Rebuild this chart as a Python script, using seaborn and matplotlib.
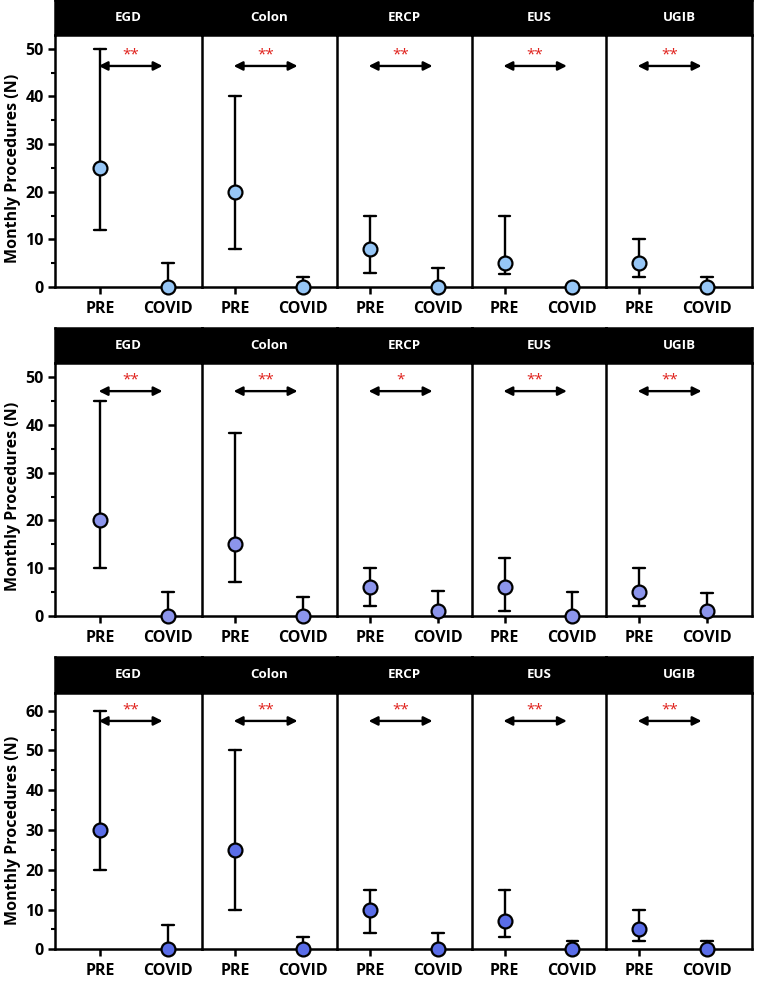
import numpy as np
import pandas as pd
import matplotlib
matplotlib.use('Agg')
import matplotlib.pyplot as plt
import seaborn as sns

# ─────────────────────────────────────────────
# DATA  (median, lower, upper per procedure)
# ─────────────────────────────────────────────
PROCEDURES = ['EGD', 'Colon', 'ERCP', 'EUS', 'UGIB']
PERIODS    = ['PRE', 'COVID']

# row 1
r1_pre_med   = [25, 20, 8, 5, 5]
r1_pre_lo    = [12, 8, 3, 2.7, 2]
r1_pre_hi    = [50, 40, 15, 15, 10]
r1_covid_med = [0, 0, 0, 0, 0]
r1_covid_lo  = [0, 0, 0, 0, 0]
r1_covid_hi  = [5, 2, 4, 0, 2]
r1_sig       = ['**', '**', '**', '**', '**']

# row 2
r2_pre_med   = [20, 15, 6, 6, 5]
r2_pre_lo    = [10, 7, 2, 1, 2]
r2_pre_hi    = [45, 38.4, 10, 12, 10]
r2_covid_med = [0, 0, 1, 0, 1]
r2_covid_lo  = [0, 0, 0, 0, 0]
r2_covid_hi  = [5, 4, 5.2, 5, 4.7]
r2_sig       = ['**', '**', '*', '**', '**']

# row 3
r3_pre_med   = [30, 25, 10, 7, 5]
r3_pre_lo    = [20, 10, 4, 3, 2]
r3_pre_hi    = [60, 50, 15, 15, 10]
r3_covid_med = [0, 0, 0, 0, 0]
r3_covid_lo  = [0, 0, 0, 0, 0]
r3_covid_hi  = [6, 3, 4, 2, 2]
r3_sig       = ['**', '**', '**', '**', '**']

ROWS = [
    dict(pre=(r1_pre_med, r1_pre_lo, r1_pre_hi), covid=(r1_covid_med, r1_covid_lo, r1_covid_hi),
         sig=r1_sig, color='#96C6F6', ymax=52.9, yticks=[0, 10, 20, 30, 40, 50], arrow_y=46.4),
    dict(pre=(r2_pre_med, r2_pre_lo, r2_pre_hi), covid=(r2_covid_med, r2_covid_lo, r2_covid_hi),
         sig=r2_sig, color='#8C95EC', ymax=53.0, yticks=[0, 10, 20, 30, 40, 50], arrow_y=47.1),
    dict(pre=(r3_pre_med, r3_pre_lo, r3_pre_hi), covid=(r3_covid_med, r3_covid_lo, r3_covid_hi),
         sig=r3_sig, color='#5A6DE8', ymax=64.5, yticks=[0, 10, 20, 30, 40, 50, 60], arrow_y=57.4),
]

# ─────────────────────────────────────────────
# LAYOUT (pixel geometry of the reference)
# ─────────────────────────────────────────────
W, H = 757, 981
X_EDGES   = [55, 202, 337, 472, 606, 752]
ROW_GEOM  = [(0, 35, 287), (328, 363, 615.7), (657, 692.7, 949.3)]  # header top, axes top, axes bottom
UNIT_PX   = 68.0   # pixels between PRE and COVID

sns.set_theme(style='ticks')
plt.rcParams['font.family'] = ['Open Sans', 'DejaVu Sans']
plt.rcParams.update({
    'axes.linewidth': 1.8,
    'axes.edgecolor': 'black',
    'xtick.color': 'black',
    'ytick.color': 'black',
    'text.color': 'black',
    'axes.labelcolor': 'black',
})

fig = plt.figure(figsize=(W / 100, H / 100), dpi=100)


def fx(px):
    return px / W


def fy(py):
    return 1 - py / H


for r, row in enumerate(ROWS):
    h_top, a_top, a_bot = ROW_GEOM[r]
    for p, proc in enumerate(PROCEDURES):
        x0, x1 = X_EDGES[p], X_EDGES[p + 1]

        # long table: three values per group -> median with min/max range
        recs = []
        for period, (med, lo, hi) in zip(PERIODS, [row['pre'], row['covid']]):
            for v in (lo[p], med[p], hi[p]):
                recs.append({'Period': period, 'N': v})
        df = pd.DataFrame(recs)

        ax = fig.add_axes([fx(x0), fy(a_bot), fx(x1 - x0), (a_bot - a_top) / H])
        sns.pointplot(
            data=df, x='Period', y='N', order=PERIODS, ax=ax,
            estimator=np.median, errorbar=lambda v: (v.min(), v.max()),
            color=row['color'], linestyle='none', capsize=0.17,
            err_kws={'color': 'black', 'linewidth': 1.7},
            marker='o', markersize=10, markeredgecolor='black', markeredgewidth=1.6,
        )
        for ln in ax.lines:
            ln.set_clip_on(False)
            if ln.get_marker() == 'o':
                ln.set_zorder(5)
            else:
                ln.set_color('black')
                ln.set_zorder(3)

        # x limits so that panel edges fall where they do in the reference
        left_off = (45 if p == 0 else 33) / UNIT_PX
        right_off = (45 if p == len(PROCEDURES) - 1 else 34) / UNIT_PX
        ax.set_xlim(-left_off, 1 + right_off)
        ax.set_ylim(0, row['ymax'])

        ax.set_xlabel('')
        ax.tick_params(axis='x', direction='out', length=5, width=1.8, pad=5,
                       labelsize=11.5)
        for lab in ax.get_xticklabels():
            lab.set_fontweight('bold')

        ax.spines['top'].set_visible(False)
        ax.spines['right'].set_visible(p == len(PROCEDURES) - 1)
        for s in ax.spines.values():
            s.set_linewidth(1.8)
            s.set_color('black')

        if p == 0:
            ax.set_yticks(row['yticks'])
            ax.set_yticks(np.arange(5, row['ymax'], 10), minor=True)
            ax.tick_params(axis='y', which='major', direction='out', length=5, width=1.8,
                           labelsize=11.5, pad=3)
            ax.tick_params(axis='y', which='minor', direction='out', length=3, width=1.5)
            for lab in ax.get_yticklabels():
                lab.set_fontweight('bold')
            ax.set_ylabel('Monthly Procedures (N)', fontsize=11.5, fontweight='bold')
            ymid = (row['yticks'][-1] / 2) / row['ymax']
            ax.yaxis.set_label_coords(-0.23, ymid)
        else:
            ax.set_yticks([])
            ax.set_ylabel('')

        # significance arrow
        ax.annotate('', xy=(-0.02, row['arrow_y']), xytext=(0.92, row['arrow_y']),
                    arrowprops=dict(arrowstyle='<|-|>', color='black', lw=1.7,
                                    mutation_scale=13, shrinkA=0, shrinkB=0))
        ax.text(0.45, row['arrow_y'] + 0.8, row['sig'][p], color='#E0201B',
                ha='center', va='bottom', fontsize=11)

        # black header strip
        hax = fig.add_axes([fx(x0), fy(a_top), fx(x1 - x0), (a_top - h_top) / H])
        hax.set_facecolor('black')
        for s in hax.spines.values():
            s.set_color('black')
        hax.set_xticks([])
        hax.set_yticks([])
        hax.text(0.5, 0.5, proc, color='white', ha='center', va='center',
                 fontsize=9.5, fontweight='bold', transform=hax.transAxes)

plt.savefig('out.png', dpi=100)
